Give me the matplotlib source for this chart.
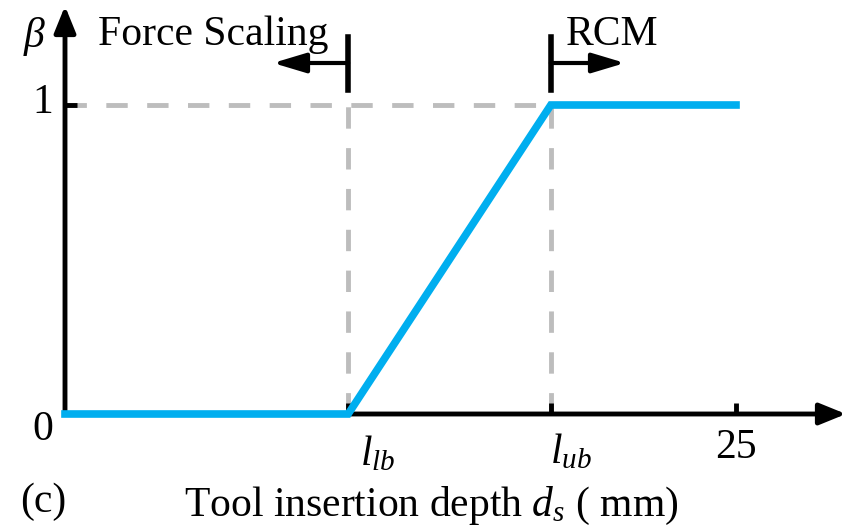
import matplotlib.pyplot as plt

plt.rcParams['font.family'] = ['Liberation Serif', 'DejaVu Serif']
plt.rcParams['mathtext.fontset'] = 'custom'
plt.rcParams['mathtext.it'] = 'Liberation Serif:italic'
plt.rcParams['mathtext.rm'] = 'Liberation Serif'

# datos
l_lb = 10.55
l_ub = 18.1
x_max = 25
depth = [0, l_lb, l_ub, x_max]
beta = [0, 0, 1, 1]
tick_pos = [l_lb, l_ub, x_max]
tick_lbl = [r'$l_{lb}$', r'$l_{ub}$', '25']

azul = '#00AEEF'
gris = '#BDBDBD'

fig = plt.figure(figsize=(8.46, 5.28), dpi=100)
ax = fig.add_axes([0, 0, 1, 1])
# escala: pixel x = 65 + 26.84*x, pixel y = 414 - 309*y
sx, sy = 26.84, 309.0
ax.set_xlim(-65 / sx, 846 / sx - 65 / sx)
ax.set_ylim(-(528 - 414) / sy, 414 / sy)
ax.axis('off')


def px(p):
    # pixel horizontal -> dato
    return (p - 65) / sx


def py(p):
    # pixel vertical (desde arriba) -> dato
    return (414 - p) / sy


# lineas auxiliares
for xs, ys in [([0, l_ub], [1, 1]), ([l_lb, l_lb], [0, 1]), ([l_ub, l_ub], [0, 1])]:
    ax.plot(xs, ys, '--', color=gris, lw=3.5, dashes=(4.4, 4.0), zorder=1)

# ejes con flecha
flecha = dict(arrowstyle='-|>,head_length=1.6,head_width=0.65',
              color='k', lw=3.5, shrinkA=0, shrinkB=0)
ax.annotate('', xy=(px(846), 0), xytext=(0, 0), arrowprops=flecha, zorder=2)
ax.annotate('', xy=(0, py(6)), xytext=(0, 0), arrowprops=flecha, zorder=2)

# marcas
for t in tick_pos:
    ax.plot([t, t], [0, 11 / sy], color='k', lw=3.5, solid_capstyle='butt', zorder=2)
ax.plot([0, 12 / sx], [1, 1], color='k', lw=3.5, solid_capstyle='butt', zorder=2)

# curva
ax.plot(depth, beta, color=azul, lw=5.5, solid_joinstyle='miter', zorder=3)

# etiquetas
fs = 30
tick_x = [378, 571, 736]
tick_y = [465, 463, 458]
for xp, yp, s in zip(tick_x, tick_y, tick_lbl):
    ax.text(px(xp), py(yp), s, ha='center', va='baseline', fontsize=fs)
ax.text(px(43), py(440), '0', ha='center', va='baseline', fontsize=fs)
ax.text(px(43), py(113), '1', ha='center', va='baseline', fontsize=fs)
ax.text(px(35), py(47), r'$\beta$', ha='center', va='baseline', fontsize=fs)

# corchetes
y_top, y_bot, y_arr = py(37), py(90), py(63)
ax.plot([l_lb, l_lb], [y_bot, y_top], color='k', lw=4, zorder=2)
ax.plot([l_ub, l_ub], [y_bot, y_top], color='k', lw=4, zorder=2)
corchete = dict(arrowstyle='-|>,head_length=2.0,head_width=0.6',
                color='k', lw=3, shrinkA=0, shrinkB=0)
ax.annotate('', xy=(px(273), y_arr), xytext=(l_lb, y_arr), arrowprops=corchete)
ax.annotate('', xy=(px(625), y_arr), xytext=(l_ub, y_arr), arrowprops=corchete)
ax.text(px(328), py(45), 'Force Scaling', ha='right', va='baseline', fontsize=fs)
ax.text(px(566), py(45), 'RCM', ha='left', va='baseline', fontsize=fs)

# titulo del eje
ax.text(px(43), py(512), '(c)', ha='center', va='baseline', fontsize=fs)
ax.text(px(431), py(516), r'Tool insertion depth $d_s$ ( mm)', ha='center',
        va='baseline', fontsize=fs)

fig.savefig('out.png', dpi=100)
